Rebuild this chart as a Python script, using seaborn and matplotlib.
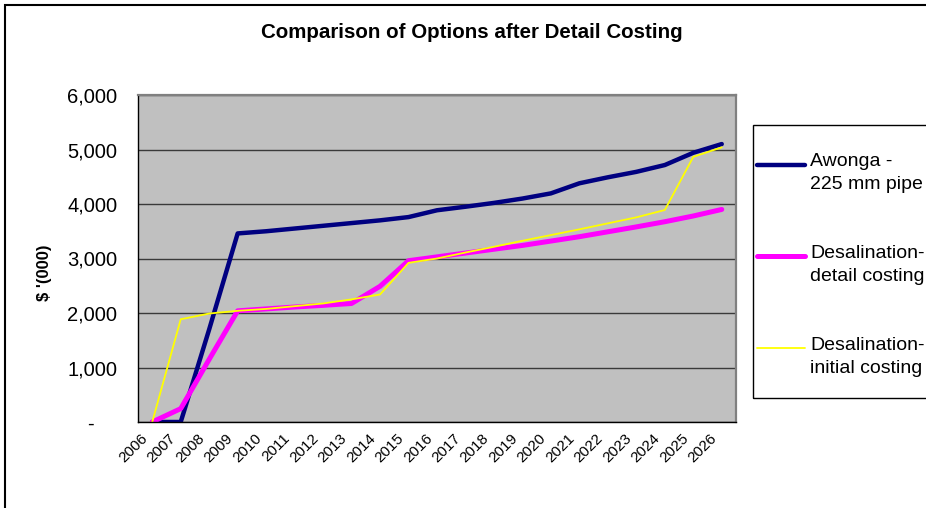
import pandas as pd
import seaborn as sns
import matplotlib.pyplot as plt
import matplotlib.transforms as mtransforms
from matplotlib.patches import Rectangle
from matplotlib.ticker import FixedLocator, FuncFormatter

# data ($ '000)
years = ["2006", "2007", "2008", "2009", "2010", "2011", "2012", "2013", "2014", "2015", "2016",
         "2017", "2018", "2019", "2020", "2021", "2022", "2023", "2024", "2025", "2026"]
awonga = [0, 0, 1700, 3460, 3500, 3550, 3600, 3650, 3700, 3760, 3885,
          3950, 4020, 4100, 4195, 4380, 4490, 4590, 4715, 4940, 5100]
desal_detail = [0, 245, 1150, 2040, 2075, 2110, 2140, 2175, 2490, 2960, 3030,
                3100, 3170, 3240, 3320, 3400, 3490, 3580, 3675, 3780, 3900]
desal_initial = [0, 1885, 1990, 2040, 2075, 2125, 2175, 2250, 2340, 2920, 3000,
                 3110, 3215, 3325, 3430, 3535, 3645, 3755, 3890, 4865, 5040]

series_names = ["Awonga -\n225 mm pipe", "Desalination-\ndetail costing", "Desalination-\ninitial costing"]
series_colors = ["#000080", "#FF00FF", "#FFFF00"]
series_widths = [3.2, 3.6, 1.3]

df = pd.DataFrame({
    "pos": list(range(len(years))),
    "awonga": awonga,
    "detail": desal_detail,
    "initial": desal_initial,
})

sns.set_style("white")
plt.rcParams["font.family"] = ["Liberation Sans", "DejaVu Sans"]
plt.rcParams["text.color"] = "black"
plt.rcParams["axes.labelcolor"] = "black"
plt.rcParams["xtick.color"] = "black"
plt.rcParams["ytick.color"] = "black"

W, H = 926, 508
fig = plt.figure(figsize=(W / 100, H / 100), dpi=100)
ax = fig.add_axes([138 / W, (H - 422) / H, (736 - 138) / W, (422 - 95) / H])
ax.set_facecolor("#C0C0C0")

for col, name, color, lw in zip(["awonga", "detail", "initial"], series_names, series_colors, series_widths):
    sns.lineplot(data=df, x="pos", y=col, color=color, linewidth=lw, label=name, ax=ax)

ax.set_xlim(-0.5, len(years) - 0.5)
ax.set_ylim(0, 6000)

# y axis
ax.yaxis.set_major_locator(FixedLocator([0, 1000, 2000, 3000, 4000, 5000, 6000]))
ax.yaxis.set_major_formatter(FuncFormatter(lambda v, p: "-    " if v == 0 else f"{v:,.0f}"))
ax.yaxis.grid(True, color="#3a3a3a", linewidth=1)
ax.set_axisbelow(True)
ax.tick_params(axis="y", direction="out", length=6, width=1, color="black",
               labelsize=14.5, pad=9)

# x axis: ticks between categories, labels at centres
ax.xaxis.set_major_locator(FixedLocator([i - 0.5 for i in range(len(years) + 1)]))
ax.xaxis.set_major_formatter(FuncFormatter(lambda v, p: ""))
ax.set_xticks(list(range(len(years))), years, minor=True)
ax.tick_params(axis="x", which="major", direction="out", length=4, width=1, color="black")
ax.tick_params(axis="x", which="minor", length=0, labelsize=11, pad=10)
shift = mtransforms.ScaledTranslation(-7 / 100, 0, fig.dpi_scale_trans)
for lbl in ax.get_xticklabels(minor=True):
    lbl.set_rotation(45)
    lbl.set_rotation_mode("anchor")
    lbl.set_ha("right")
    lbl.set_va("center")
    lbl.set_transform(lbl.get_transform() + shift)

ax.set_xlabel("")
ax.set_ylabel("$ '(000)", fontsize=12, fontweight="bold")
ax.yaxis.set_label_coords(-0.144, 0.456)

for s in ["left", "bottom"]:
    ax.spines[s].set_color("black")
    ax.spines[s].set_linewidth(1)
for s in ["top", "right"]:
    ax.spines[s].set_color("#808080")
    ax.spines[s].set_linewidth(1.6)

fig.text(472 / W, 1 - 33 / H, "Comparison of Options after Detail Costing",
         ha="center", va="center", fontsize=14.8, fontweight="bold")

# legend
handles, labels = ax.get_legend_handles_labels()
leg = ax.legend(handles, labels, loc="upper left", bbox_to_anchor=(747 / W, 1 - 140 / H),
                bbox_transform=fig.transFigure, frameon=False, fontsize=14,
                handlelength=2.5, handleheight=3.5, handletextpad=0.25,
                labelspacing=2.2, borderpad=0)
for t in leg.get_texts():
    t.set_linespacing(1.45)
fig.add_artist(Rectangle((753 / W, 1 - 398 / H), (960 - 753) / W, (398 - 125) / H,
                         transform=fig.transFigure, fill=False, edgecolor="black",
                         linewidth=1, clip_on=False))

# outer chart border
fig.add_artist(Rectangle((5 / W, -0.1), 1.2, 1.1 - 5 / H, transform=fig.transFigure,
                         fill=False, edgecolor="black", linewidth=1.5, clip_on=False))

fig.savefig("out.png", dpi=100)
